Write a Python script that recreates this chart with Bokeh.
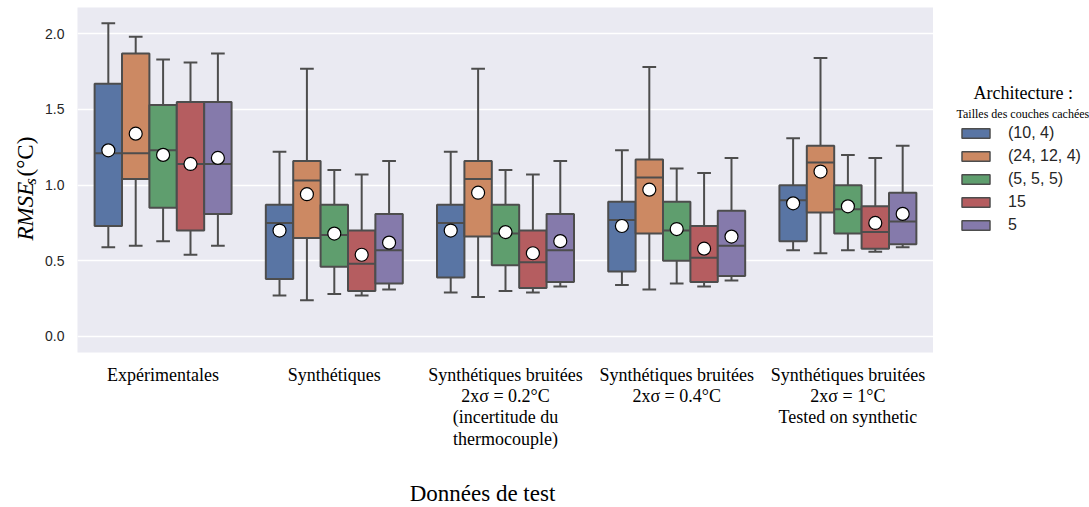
import math
from bokeh.plotting import figure
from bokeh.layouts import row
from bokeh.models import (Range1d, FixedTicker, Label, Legend, LegendItem,
                          PrintfTickFormatter)
from bokeh.embed import file_html
from bokeh.resources import INLINE

# ---------------- data ----------------
groups = [
    "Expérimentales",
    "Synthétiques",
    "Synthétiques bruitées\n2xσ = 0.2°C\n(incertitude du\nthermocouple)",
    "Synthétiques bruitées\n2xσ = 0.4°C",
    "Synthétiques bruitées\n2xσ = 1°C\nTested on synthetic",
]
series = ["(10, 4)", "(24, 12, 4)", "(5, 5, 5)", "15", "5"]
colors = ["#5975A4", "#CC8963", "#5F9E6E", "#B55D60", "#857AAB"]

whis_low_10_4 = [0.59, 0.27, 0.29, 0.34, 0.57]
q1_10_4 = [0.73, 0.38, 0.39, 0.43, 0.63]
median_10_4 = [1.21, 0.75, 0.75, 0.77, 0.90]
q3_10_4 = [1.67, 0.87, 0.87, 0.89, 1.00]
whis_high_10_4 = [2.07, 1.22, 1.22, 1.23, 1.31]
mean_10_4 = [1.23, 0.70, 0.70, 0.73, 0.88]

whis_low_24_12_4 = [0.60, 0.24, 0.26, 0.31, 0.55]
q1_24_12_4 = [1.04, 0.65, 0.66, 0.68, 0.82]
median_24_12_4 = [1.21, 1.03, 1.04, 1.05, 1.15]
q3_24_12_4 = [1.87, 1.16, 1.16, 1.17, 1.26]
whis_high_24_12_4 = [1.98, 1.77, 1.77, 1.78, 1.84]
mean_24_12_4 = [1.34, 0.94, 0.95, 0.97, 1.09]

whis_low_5_5_5 = [0.63, 0.28, 0.30, 0.35, 0.57]
q1_5_5_5 = [0.85, 0.46, 0.47, 0.50, 0.68]
median_5_5_5 = [1.23, 0.67, 0.68, 0.70, 0.84]
q3_5_5_5 = [1.53, 0.87, 0.87, 0.89, 1.00]
whis_high_5_5_5 = [1.83, 1.10, 1.10, 1.11, 1.20]
mean_5_5_5 = [1.20, 0.68, 0.69, 0.71, 0.86]

whis_low_15 = [0.54, 0.27, 0.29, 0.33, 0.56]
q1_15 = [0.70, 0.30, 0.32, 0.36, 0.58]
median_15 = [1.14, 0.48, 0.49, 0.52, 0.69]
q3_15 = [1.55, 0.70, 0.70, 0.73, 0.86]
whis_high_15 = [1.81, 1.07, 1.07, 1.08, 1.18]
mean_15 = [1.14, 0.54, 0.55, 0.58, 0.75]

whis_low_5 = [0.60, 0.31, 0.33, 0.37, 0.59]
q1_5 = [0.81, 0.35, 0.36, 0.40, 0.61]
median_5 = [1.14, 0.57, 0.57, 0.60, 0.76]
q3_5 = [1.55, 0.81, 0.81, 0.83, 0.95]
whis_high_5 = [1.87, 1.16, 1.16, 1.18, 1.26]
mean_5 = [1.18, 0.62, 0.63, 0.66, 0.81]

y_ticks = [0.0, 0.5, 1.0, 1.5, 2.0]

stats = [
    (whis_low_10_4, q1_10_4, median_10_4, q3_10_4, whis_high_10_4, mean_10_4),
    (whis_low_24_12_4, q1_24_12_4, median_24_12_4, q3_24_12_4, whis_high_24_12_4, mean_24_12_4),
    (whis_low_5_5_5, q1_5_5_5, median_5_5_5, q3_5_5_5, whis_high_5_5_5, mean_5_5_5),
    (whis_low_15, q1_15, median_15, q3_15, whis_high_15, mean_15),
    (whis_low_5, q1_5, median_5, q3_5, whis_high_5, mean_5),
]

GRAY = "#4d4d4d"
H = 507
LEFT_W = 40
RIGHT_W = 156
MAIN_W = 1089 - LEFT_W - RIGHT_W

# ---------------- main figure ----------------
p = figure(width=MAIN_W, height=H, output_backend="svg", toolbar_location=None,
           x_range=Range1d(-0.5, 4.5), y_range=Range1d(-0.106, 2.174),
           min_border_left=37, min_border_right=0, min_border_top=7, min_border_bottom=155,
           background_fill_color="#EAEAF2", border_fill_color="white", outline_line_color=None)

p.xgrid.visible = False
p.ygrid.grid_line_color = "white"
p.ygrid.grid_line_width = 1.3

p.yaxis.ticker = FixedTicker(ticks=y_ticks)
p.yaxis.formatter = PrintfTickFormatter(format="%.1f")
p.xaxis.ticker = FixedTicker(ticks=list(range(len(groups))))
p.xaxis.major_label_overrides = {i: g for i, g in enumerate(groups)}

for ax in (p.xaxis[0], p.yaxis[0]):
    ax.axis_line_color = None
    ax.major_tick_line_color = None
    ax.minor_tick_line_color = None
    ax.major_tick_out = 0
    ax.major_tick_in = 0
    ax.minor_tick_out = 0

p.yaxis.major_label_text_font = "Liberation Sans"
p.yaxis.major_label_text_font_size = "14px"
p.yaxis.major_label_text_color = "#262626"
p.yaxis.major_label_standoff = 13

p.xaxis.major_label_text_font = "Liberation Serif"
p.xaxis.major_label_text_font_size = "18px"
p.xaxis.major_label_text_line_height = 1.07
p.xaxis.major_label_text_color = "#000000"
p.xaxis.major_label_standoff = 12

n = len(series)
bw = 0.8 / n
xs_by_series = []
for i, (lo, q1, med, q3, hi, mn) in enumerate(stats):
    off = (i - (n - 1) / 2) * bw
    xs = [g + off for g in range(len(groups))]
    xs_by_series.append(xs)
    p.segment(x0=xs, y0=q3, x1=xs, y1=hi, line_color=GRAY, line_width=2)
    p.segment(x0=xs, y0=q1, x1=xs, y1=lo, line_color=GRAY, line_width=2)
    p.segment(x0=[x - bw / 4 for x in xs], y0=hi, x1=[x + bw / 4 for x in xs], y1=hi,
              line_color=GRAY, line_width=2)
    p.segment(x0=[x - bw / 4 for x in xs], y0=lo, x1=[x + bw / 4 for x in xs], y1=lo,
              line_color=GRAY, line_width=2)
    p.vbar(x=xs, width=bw, bottom=q1, top=q3, fill_color=colors[i],
           line_color=GRAY, line_width=2)
    p.segment(x0=[x - bw / 2 for x in xs], y0=med, x1=[x + bw / 2 for x in xs], y1=med,
              line_color=GRAY, line_width=2)
    p.scatter(x=xs, y=mn, size=13, fill_color="white", line_color="black", line_width=1.2)

# x-axis title, placed in the bottom side panel (not clipped there)
p.add_layout(Label(x=405, y=-17, x_units="screen", y_units="screen", text="Données de test",
                   text_font="Liberation Serif", text_font_size="23px", text_align="center",
                   text_baseline="middle", text_color="#000000"), "below")

# ---------------- left strip: y-axis title ----------------
pl = figure(width=LEFT_W, height=H, output_backend="svg", toolbar_location=None,
            x_range=Range1d(0, 1), y_range=Range1d(0, 1), min_border=0,
            x_axis_location=None, y_axis_location=None,
            background_fill_color="white", border_fill_color="white", outline_line_color=None)
pl.grid.visible = False
pl.add_layout(Label(x=25, y=112, x_units="screen", y_units="screen", text="RMSE",
                    angle=math.pi / 2, text_font="Liberation Serif", text_font_style="italic",
                    text_font_size="23px", text_align="left", text_baseline="middle",
                    text_color="#000000"))
pl.add_layout(Label(x=30, y=168, x_units="screen", y_units="screen", text="s",
                    angle=math.pi / 2, text_font="Liberation Serif", text_font_style="italic",
                    text_font_size="16px", text_align="left", text_baseline="middle",
                    text_color="#000000"))
pl.add_layout(Label(x=25, y=176, x_units="screen", y_units="screen", text="(°C)",
                    angle=math.pi / 2, text_font="Liberation Serif",
                    text_font_size="23px", text_align="left", text_baseline="middle",
                    text_color="#000000"))

# ---------------- right strip: legend ----------------
pr = figure(width=RIGHT_W, height=H, output_backend="svg", toolbar_location=None,
            x_range=Range1d(-0.5, 4.5), y_range=Range1d(-0.106, 2.174), min_border=0,
            x_axis_location=None, y_axis_location=None,
            background_fill_color="white", border_fill_color="white", outline_line_color=None)
pr.grid.visible = False
legend_items = []
for i, name in enumerate(series):
    lo, q1, med, q3, hi, mn = stats[i]
    # hidden proxy of the box glyph, used only to draw the legend swatch
    r = pr.vbar(x=xs_by_series[i], width=bw, bottom=q1, top=q3, fill_color=colors[i],
                line_color=GRAY, line_width=1.5, visible=False)
    legend_items.append(LegendItem(label=name, renderers=[r]))
legend = Legend(items=legend_items, location=(25, 117), glyph_width=35, glyph_height=12,
                label_standoff=15, label_height=21, spacing=2, padding=0, margin=0,
                border_line_color=None, background_fill_alpha=0,
                label_text_font="Liberation Sans", label_text_font_size="16px",
                label_text_color="#262626")
pr.add_layout(legend)
pr.add_layout(Label(x=40, y=260, x_units="screen", y_units="screen", text="Architecture :",
                    text_font="Liberation Serif", text_font_size="18px", text_align="left",
                    text_baseline="middle", text_color="#000000"))
pr.add_layout(Label(x=23, y=239, x_units="screen", y_units="screen",
                    text="Tailles des couches cachées",
                    text_font="Liberation Serif", text_font_size="12px", text_align="left",
                    text_baseline="middle", text_color="#000000"))

layout = row(pl, p, pr)
open("out.html", "w").write(file_html(layout, INLINE))
